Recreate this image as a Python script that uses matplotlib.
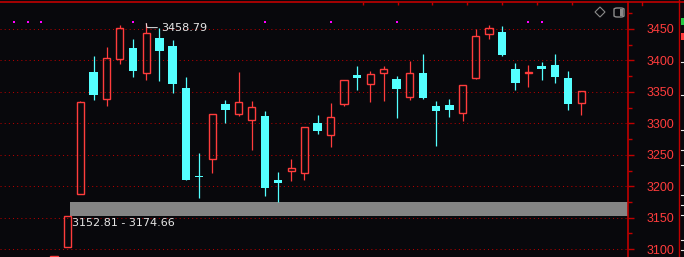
import numpy as np
import matplotlib
matplotlib.use("Agg")
import matplotlib.pyplot as plt
from matplotlib import font_manager
from matplotlib.patches import Rectangle, FancyBboxPatch, Polygon
from matplotlib.lines import Line2D
import matplotlib.ticker as tck

# candle data
opens = [3070.0, 3102.9, 3187.2, 3381.6, 3338.7, 3402.3, 3419.8, 3380.0, 3435.7, 3423.0,
         3356.2, 3215.5, 3243.3, 3330.7, 3314.9, 3305.3, 3311.7, 3209.9, 3224.2, 3221.5,
         3300.5, 3281.5, 3330.8, 3376.9, 3362.5, 3380.0, 3370.5, 3341.9, 3380.0, 3327.6,
         3329.2, 3316.4, 3372.1, 3442.0, 3445.2, 3386.4, 3380.0, 3391.2, 3392.8, 3372.1,
         3332.3]
highs = [3089.6, 3152.81, 3335.5, 3407.1, 3421.4, 3456.4, 3434.1, 3458.79, 3451.6, 3432.5,
         3373.7, 3252.8, 3314.9, 3337.1, 3381.6, 3335.5, 3319.6, 3222.6, 3243.3, 3294.2,
         3313.3, 3332.3, 3368.9, 3391.2, 3383.2, 3391.2, 3375.3, 3399.1, 3410.3, 3335.5,
         3338.7, 3361.0, 3450.0, 3456.4, 3454.8, 3395.9, 3392.8, 3397.5, 3410.3, 3383.2,
         3351.4]
lows = [3066.0, 3102.9, 3187.2, 3337.1, 3327.6, 3394.4, 3373.7, 3368.9, 3367.3, 3348.2,
        3209.9, 3181.3, 3221.0, 3300.5, 3311.7, 3257.6, 3184.5, 3174.66, 3208.3, 3209.9,
        3283.1, 3262.4, 3327.6, 3353.0, 3333.9, 3335.5, 3308.5, 3337.1, 3338.7, 3264.0,
        3310.1, 3303.7, 3370.5, 3434.1, 3407.1, 3353.0, 3357.8, 3368.9, 3364.1, 3321.2,
        3313.3]
closes = [3089.6, 3152.8, 3333.9, 3345.1, 3403.9, 3451.6, 3383.2, 3443.6, 3415.0, 3362.5,
          3209.9, 3214.5, 3314.9, 3321.2, 3333.9, 3326.0, 3197.2, 3205.1, 3229.0, 3294.2,
          3287.8, 3310.1, 3368.9, 3372.1, 3378.5, 3386.4, 3354.6, 3380.0, 3340.3, 3319.6,
          3321.2, 3361.0, 3438.9, 3451.6, 3408.7, 3364.1, 3381.6, 3386.4, 3373.7, 3330.7,
          3351.4]

# unfilled gap and the max-high label
gap_low, gap_high = 3152.81, 3174.66
gap_start = 1
max_idx = 7
# magenta signal marks (candle index) and level
signal_idx = [-3, -2, -1, 6, 16, 21, 26, 36, 37]
signal_level = 3461.0
# small marks on the top border (candle index units)
top_ticks = [23.45, 26.1, 28.7, 31.35, 34.0, 36.65, 39.3]

price_ticks = np.arange(3100, 3451, 50)

BG = "#08080c"
UP = "#ff3c3c"
DOWN = "#54ffff"
AXIS = "#c00000"
GRID = "#b00000"
TXT = "#e6e6e6"

# narrow font for the price scale if there is one
names = {f.name for f in font_manager.fontManager.ttflist}
if "Liberation Sans Narrow" in names:
    scale_font, scale_size = "Liberation Sans Narrow", 10
else:
    scale_font, scale_size = "Liberation Sans", 9

W, H = 684, 257
fig = plt.figure(figsize=(W / 100, H / 100), dpi=100, facecolor=BG)
ax = fig.add_axes([0, 0, 628 / W, 255 / H], facecolor=BG)

n = len(opens)
ax.set_xlim(-4.097, 43.55)
ax.set_ylim(3087.5, 3492.9)

# grid
for p in price_ticks:
    ax.axhline(p, color=GRID, lw=0.75, ls=(0, (1, 3)), zorder=0)

# gap band
x0, x1 = ax.get_xlim()
ax.axhspan(gap_low, gap_high, xmin=(gap_start + 0.2 - x0) / (x1 - x0), xmax=1,
           color="#848484", lw=0, zorder=1)
ax.annotate(f"{gap_low:.2f} - {gap_high:.2f}", xy=(gap_start + 0.35, gap_low),
            xytext=(0, -1.5), textcoords="offset points", ha="left", va="top",
            color=TXT, fontsize=8, zorder=5)

# candles
bw = 0.62
for i in range(n):
    o, h, l, c = opens[i], highs[i], lows[i], closes[i]
    top, bot = max(o, c), min(o, c)
    if c >= o:
        ax.vlines(i, top, h, color=UP, lw=0.9, zorder=2)
        ax.vlines(i, l, bot, color=UP, lw=0.9, zorder=2)
        ax.add_patch(Rectangle((i - bw / 2 + 0.04, bot), bw - 0.08, max(top - bot, 1.5),
                               facecolor="none", edgecolor=UP, lw=1.0, zorder=3))
    else:
        ax.vlines(i, l, h, color=DOWN, lw=0.9, zorder=2)
        ax.add_patch(Rectangle((i - bw / 2 - 0.01, bot), bw + 0.02, max(top - bot, 2.5),
                               facecolor=DOWN, edgecolor="none", lw=0, zorder=3))

# magenta marks
ax.plot(signal_idx, [signal_level] * len(signal_idx), ls="none", marker="s",
        ms=1.6, color="#ff00ff", mew=0, zorder=4)

# max label
ax.annotate(f"{highs[max_idx]:.2f}", xy=(max_idx, highs[max_idx]), xytext=(11, -3),
            textcoords="offset points", ha="left", va="center", color=TXT, fontsize=8,
            arrowprops=dict(arrowstyle="-", color=TXT, lw=0.7, shrinkA=1, shrinkB=0,
                            connectionstyle="angle,angleA=0,angleB=100,rad=0"),
            zorder=5)

# axes styling
for s in ["left", "bottom"]:
    ax.spines[s].set_visible(False)
for s in ["top", "right"]:
    ax.spines[s].set_color(AXIS)
    ax.spines[s].set_linewidth(1.2)
ax.yaxis.tick_right()
ax.set_yticks(price_ticks)
ax.yaxis.set_minor_locator(tck.MultipleLocator(25))
ax.tick_params(axis="y", which="major", colors=AXIS, length=4.3, width=1, pad=9,
               labelcolor=UP, labelsize=scale_size)
ax.tick_params(axis="y", which="minor", colors=AXIS, length=3, width=1)
for lab in ax.get_yticklabels():
    lab.set_fontfamily(scale_font)
ax.xaxis.tick_top()
ax.set_xticks(top_ticks)
ax.set_xticklabels([])
ax.tick_params(axis="x", which="major", colors=AXIS, length=2.5, width=1, direction="in")

# frame parts outside the axes
fig.add_artist(Line2D([628 / W, 1], [1 - 2 / H, 1 - 2 / H], color=AXIS, lw=1.2))
fig.add_artist(Line2D([679 / W, 679 / W], [0, 1], color=AXIS, lw=1.0))
fig.add_artist(Line2D([642 / W, 642 / W], [1 - 2 / H, 1 - 5 / H], color=AXIS, lw=1.0))
fig.add_artist(Rectangle((681 / W, 1 - 25 / H), 4 / W, 7 / H, color="#22cc44", lw=0))
fig.add_artist(Rectangle((681 / W, 1 - 40 / H), 4 / W, 7 / H, color=UP, lw=0))
for yy in [62, 95, 130, 150, 165, 195, 205, 215, 240, 250]:
    fig.add_artist(Line2D([681 / W, 684 / W], [1 - yy / H, 1 - yy / H], color=TXT, lw=0.8))

# toolbar icons
fig.add_artist(Polygon([(600 / W, 1 - 7 / H), (605 / W, 1 - 12 / H), (600 / W, 1 - 17 / H),
                        (595 / W, 1 - 12 / H)], closed=True, fill=False,
                       edgecolor="#8a8a8a", lw=0.8))
fig.add_artist(FancyBboxPatch((614 / W, 1 - 17 / H), 10 / W, 9 / H,
                              boxstyle="round,pad=0,rounding_size=0.005",
                              fill=False, edgecolor="#8a8a8a", lw=1.0))
fig.add_artist(Rectangle((619.5 / W, 1 - 16 / H), 3.5 / W, 7 / H, color="#8a8a8a", lw=0))

fig.savefig("out.png", dpi=100, facecolor=BG)
